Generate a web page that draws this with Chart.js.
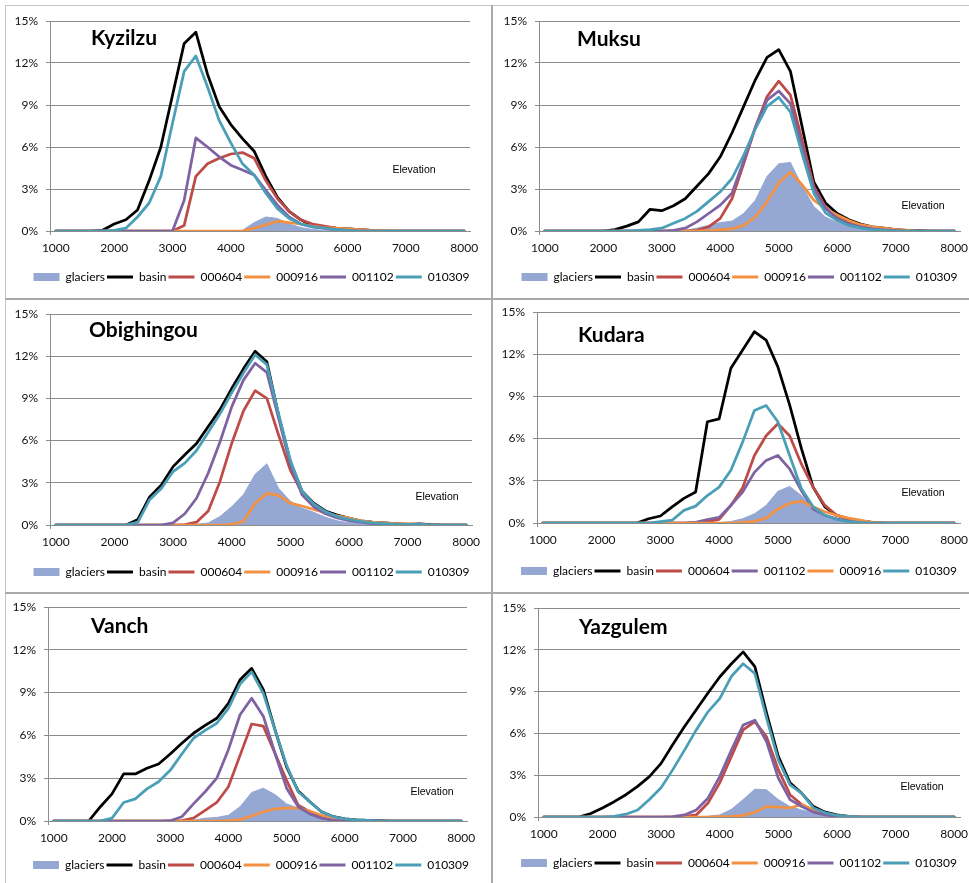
<!DOCTYPE html>
<html>
<head>
<meta charset="utf-8">
<title>Hypsometry of basins, glaciers and snow cover</title>
<script src="https://cdn.jsdelivr.net/npm/chart.js@4.4.1/dist/chart.umd.min.js"></script>
<style>
  html, body { margin: 0; padding: 0; background: #ffffff; }
  body { position: relative; width: 969px; height: 883px; overflow: hidden; }
  canvas { position: absolute; }
  .rule { position: absolute; background: #a9a9a9; z-index: 2; }
</style>
</head>
<body>
<div class="rule" style="left:5px;top:5px;width:964px;height:1px;background:#c4c4c4"></div>
<div class="rule" style="left:5px;top:5px;width:1px;height:878px;background:#c4c4c4"></div>
<div class="rule" style="left:491px;top:5px;width:2px;height:878px"></div>
<div class="rule" style="left:5px;top:298px;width:964px;height:2px"></div>
<div class="rule" style="left:5px;top:592px;width:964px;height:2px"></div>
<script>
// Elevation bands (m), 200 m steps
const elevations = [1000,1200,1400,1600,1800,2000,2200,2400,2600,2800,3000,3200,3400,3600,3800,4000,4200,4400,4600,4800,5000,5200,5400,5600,5800,6000,6200,6400,6600,6800,7000,7200,7400,7600,7800,8000];
const percentMax = 15;
const percentStep = 3;

// Series order in the legends
const seriesOrder = ['glaciers','basin','000604','000916','001102','010309'];
const kudaraOrder = ['glaciers','basin','000604','001102','000916','010309'];

// Share of area (%) in each elevation band
const kyzilzuGlaciers = [0,0,0,0,0, 0,0,0,0,0, 0,0,0,0,0, 0,0.05,0.6,1.0,0.9, 0.5,0.25,0.1,0.05,0, 0,0,0,0,0, 0,0,0,0,0,0];
const kyzilzuBasin    = [0,0,0,0,0.05, 0.5,0.8,1.5,3.6,6.0, 9.7,13.4,14.2,11.2,8.9, 7.6,6.6,5.7,3.9,2.4, 1.4,0.8,0.4,0.3,0.2, 0.15,0.1,0.05,0,0, 0,0,0,0,0,0];
const kyzilzu000604   = [0,0,0,0,0, 0,0,0,0,0, 0,0.4,3.9,4.8,5.2, 5.5,5.6,5.2,3.6,2.3, 1.4,0.8,0.5,0.35,0.2, 0.15,0.1,0.05,0,0, 0,0,0,0,0,0];
const kyzilzu000916   = [0,0,0,0,0, 0,0,0,0,0, 0,0,0,0,0, 0,0,0.2,0.45,0.7, 0.6,0.5,0.35,0.25,0.2, 0.15,0.1,0.05,0.03,0, 0,0,0,0,0,0];
const kyzilzu001102   = [0,0,0,0,0, 0,0,0,0,0, 0,2.2,6.65,6.0,5.3, 4.7,4.35,4.0,2.9,1.85, 1.0,0.5,0.3,0.2,0.1, 0.05,0,0,0,0, 0,0,0,0,0,0];
const kyzilzu010309   = [0,0,0,0,0, 0.05,0.2,1.0,2.0,3.9, 7.7,11.4,12.5,10.3,7.9, 6.3,4.8,4.0,2.7,1.6, 0.9,0.5,0.3,0.2,0.1, 0.05,0,0,0,0, 0,0,0,0,0,0];

const muksuGlaciers = [0,0,0,0,0, 0,0,0,0,0, 0,0,0.05,0.2,0.4, 0.6,0.7,1.25,2.2,3.9, 4.8,4.9,3.2,1.75,1.0, 0.6,0.35,0.2,0.1,0.05, 0,0,0,0,0,0];
const muksuBasin    = [0,0,0,0,0, 0,0.1,0.35,0.65,1.55, 1.45,1.8,2.3,3.2,4.1, 5.3,7.0,8.9,10.8,12.4, 12.95,11.4,7.45,3.5,2.0, 1.25,0.8,0.5,0.3,0.2, 0.1,0.05,0.02,0,0,0];
const muksu000604   = [0,0,0,0,0, 0,0,0,0,0, 0,0,0,0.05,0.3, 0.9,2.3,4.8,7.4,9.6, 10.7,9.7,6.5,3.2,1.7, 1.0,0.6,0.35,0.2,0.1, 0.05,0,0,0,0,0];
const muksu000916   = [0,0,0,0,0, 0,0,0,0,0, 0,0,0,0,0.02, 0.1,0.15,0.4,1.0,2.1, 3.45,4.2,3.3,2.2,1.6, 1.15,0.75,0.45,0.3,0.2, 0.1,0.05,0,0,0,0];
const muksu001102   = [0,0,0,0,0, 0,0,0,0,0, 0,0.05,0.2,0.65,1.25, 1.85,2.7,5.0,7.4,9.35, 10.0,9.1,6.0,3.0,1.6, 0.9,0.5,0.3,0.15,0.08, 0.03,0,0,0,0,0];
const muksu010309   = [0,0,0,0,0, 0,0,0,0.05,0.1, 0.2,0.55,0.9,1.4,2.1, 2.8,3.75,5.4,7.3,8.9, 9.55,8.5,5.5,2.7,1.3, 0.75,0.4,0.2,0.1,0.05, 0,0,0,0,0,0];

const obighingouGlaciers = [0,0,0,0,0, 0,0,0,0,0, 0,0,0.05,0.15,0.6, 1.3,2.15,3.6,4.35,2.6, 1.7,1.2,0.9,0.55,0.3, 0.15,0.1,0.05,0,0, 0,0,0,0,0,0];
const obighingouBasin    = [0,0,0,0,0, 0,0,0.4,2.0,2.85, 4.15,5.0,5.8,7.0,8.2, 9.7,11.1,12.35,11.6,7.8, 4.5,2.4,1.55,1.0,0.7, 0.5,0.3,0.2,0.15,0.1, 0.05,0.08,0.02,0,0,0];
const obighingou000604   = [0,0,0,0,0, 0,0,0,0,0, 0,0.02,0.2,1.0,3.1, 5.8,8.1,9.55,9.0,6.4, 3.9,2.3,1.45,0.9,0.6, 0.4,0.25,0.15,0.1,0.05, 0,0,0,0,0,0];
const obighingou000916   = [0,0,0,0,0, 0,0,0,0,0, 0,0,0,0,0, 0.05,0.25,1.55,2.25,2.1, 1.55,1.35,1.1,0.85,0.65, 0.5,0.3,0.2,0.15,0.1, 0.1,0.05,0,0,0,0];
const obighingou001102   = [0,0,0,0,0, 0,0,0,0,0, 0.15,0.8,1.9,3.7,5.9, 8.4,10.3,11.5,10.85,7.6, 4.3,2.15,1.3,0.8,0.5, 0.3,0.2,0.1,0.05,0, 0,0,0,0,0,0];
const obighingou010309   = [0,0,0,0,0, 0,0,0.2,1.8,2.6, 3.8,4.4,5.3,6.6,7.9, 9.4,10.8,12.1,11.4,7.9, 4.6,2.4,1.5,0.95,0.6, 0.4,0.25,0.15,0.1,0.05, 0.05,0.05,0,0,0,0];

const kudaraGlaciers = [0,0,0,0,0, 0,0,0,0,0, 0,0,0,0,0, 0.02,0.1,0.3,0.65,1.25, 2.25,2.6,1.95,1.0,0.5, 0.2,0.05,0,0,0, 0,0,0,0,0,0];
const kudaraBasin    = [0,0,0,0,0, 0,0,0,0,0.3, 0.5,1.15,1.75,2.2,7.2, 7.4,11.0,12.3,13.6,13.0, 11.1,8.4,5.3,2.55,1.15, 0.55,0.3,0.15,0.05,0, 0,0,0,0,0,0];
const kudara000604   = [0,0,0,0,0, 0,0,0,0,0, 0,0,0,0.02,0.1, 0.25,1.25,2.5,4.8,6.2, 7.05,6.2,4.2,2.55,1.25, 0.55,0.3,0.15,0.05,0, 0,0,0,0,0,0];
const kudara001102   = [0,0,0,0,0, 0,0,0,0,0, 0,0,0,0.05,0.25, 0.4,1.25,2.2,3.6,4.45, 4.8,3.85,2.3,1.0,0.55, 0.3,0.15,0.05,0,0, 0,0,0,0,0,0];
const kudara000916   = [0,0,0,0,0, 0,0,0,0,0, 0,0,0,0,0, 0,0,0.05,0.12,0.35, 1.0,1.4,1.55,1.15,0.8, 0.55,0.35,0.2,0.05,0, 0,0,0,0,0,0];
const kudara010309   = [0,0,0,0,0, 0,0,0,0,0, 0.1,0.2,0.9,1.2,1.95, 2.55,3.75,5.75,8.0,8.35, 7.2,4.8,2.45,1.15,0.55, 0.25,0.1,0.05,0,0, 0,0,0,0,0,0];

const vanchGlaciers = [0,0,0,0,0, 0,0,0,0,0, 0,0,0.05,0.2,0.25, 0.4,1.0,2.0,2.3,1.85, 1.2,0.9,0.5,0.3,0.15, 0.1,0.05,0.05,0.02,0, 0,0,0,0,0,0];
const vanchBasin    = [0,0,0,0,1.0, 1.9,3.3,3.3,3.7,4.0, 4.7,5.45,6.15,6.7,7.2, 8.25,9.9,10.7,9.2,6.4, 3.8,2.1,1.35,0.65,0.3, 0.15,0.08,0.05,0.02,0, 0,0,0,0,0,0];
const vanch000604   = [0,0,0,0,0, 0,0,0,0,0, 0,0.02,0.2,0.75,1.3, 2.4,4.6,6.8,6.65,4.75, 2.85,1.1,0.65,0.3,0.1, 0.03,0,0,0,0, 0,0,0,0,0,0];
const vanch000916   = [0,0,0,0,0, 0,0,0,0,0, 0,0,0,0,0, 0.02,0.1,0.35,0.65,0.85, 0.9,0.9,0.7,0.4,0.2, 0.05,0,0,0,0, 0,0,0,0,0,0];
const vanch001102   = [0,0,0,0,0, 0,0,0,0,0, 0.02,0.3,1.2,2.05,3.0, 5.0,7.45,8.6,7.35,4.75, 2.3,1.0,0.5,0.2,0.05, 0,0,0,0,0, 0,0,0,0,0,0];
const vanch010309   = [0,0,0,0,0, 0.2,1.3,1.55,2.25,2.75, 3.55,4.7,5.8,6.35,6.85, 7.9,9.6,10.45,8.95,6.4, 3.9,2.05,1.35,0.65,0.3, 0.15,0.08,0.05,0,0, 0,0,0,0,0,0];

const yazgulemGlaciers = [0,0,0,0,0, 0,0,0,0,0, 0,0,0,0,0.05, 0.15,0.55,1.25,2.0,1.95, 1.25,0.75,0.5,0.3,0.15, 0.05,0,0,0,0, 0,0,0,0,0,0];
const yazgulemBasin    = [0,0,0,0,0.25, 0.65,1.1,1.6,2.2,2.9, 3.85,5.2,6.5,7.7,8.9, 10.05,11.0,11.85,10.8,7.45, 4.35,2.45,1.7,0.75,0.35, 0.15,0.05,0,0,0, 0,0,0,0,0,0];
const yazgulem000604   = [0,0,0,0,0, 0,0,0,0,0, 0,0,0.05,0.15,1.0, 2.45,4.35,6.25,6.85,5.75, 3.4,1.6,0.9,0.45,0.2, 0.05,0,0,0,0, 0,0,0,0,0,0];
const yazgulem000916   = [0,0,0,0,0, 0,0,0,0,0, 0,0,0,0,0, 0.02,0.05,0.12,0.35,0.75, 0.7,0.65,0.9,0.5,0.25, 0.1,0.03,0,0,0, 0,0,0,0,0,0];
const yazgulem001102   = [0,0,0,0,0, 0,0,0,0,0, 0,0.02,0.15,0.5,1.35, 2.9,4.8,6.6,6.95,5.4, 2.8,1.25,0.75,0.35,0.15, 0.05,0,0,0,0, 0,0,0,0,0,0];
const yazgulem010309   = [0,0,0,0,0, 0,0.05,0.2,0.5,1.25, 2.1,3.4,4.8,6.25,7.55, 8.5,10.1,11.0,10.3,7.1, 4.1,2.3,1.7,0.65,0.3, 0.12,0.05,0,0,0, 0,0,0,0,0,0];

const COLORS = {
  glaciers: '#95a8d4',
  basin: '#000000',
  '000604': '#be4b48',
  '000916': '#f39143',
  '001102': '#7e62a1',
  '010309': '#4a9fb6'
};
const GRID = '#8c8c8c';

// Panel layout (page px): canvas left/top/height, plot area, legend centre,
// title baseline and axis-note offsets from the plot's top-left corner
const panels = [
  { title: 'Kyzilzu', names: seriesOrder,
    values: { glaciers: kyzilzuGlaciers, basin: kyzilzuBasin, '000604': kyzilzu000604, '000916': kyzilzu000916, '001102': kyzilzu001102, '010309': kyzilzu010309 },
    box: { x: 6, y: 7, h: 290 }, area: { left: 50, top: 21, right: 470, bottom: 231 },
    legendY: 277, legendCx: 251.5, titleAt: [41, 24], noteAt: [364, 149] },
  { title: 'Muksu', names: seriesOrder,
    values: { glaciers: muksuGlaciers, basin: muksuBasin, '000604': muksu000604, '000916': muksu000916, '001102': muksu001102, '010309': muksu010309 },
    box: { x: 494, y: 7, h: 290 }, area: { left: 539, top: 21, right: 960, bottom: 231 },
    legendY: 277, legendCx: 739.5, titleAt: [38, 25], noteAt: [384, 185] },
  { title: 'Obighingou', names: seriesOrder,
    values: { glaciers: obighingouGlaciers, basin: obighingouBasin, '000604': obighingou000604, '000916': obighingou000916, '001102': obighingou001102, '010309': obighingou010309 },
    box: { x: 6, y: 300, h: 291 }, area: { left: 50, top: 314, right: 472, bottom: 525 },
    legendY: 572, legendCx: 251.5, titleAt: [39, 23], noteAt: [387, 183] },
  { title: 'Kudara', names: kudaraOrder,
    values: { glaciers: kudaraGlaciers, basin: kudaraBasin, '000604': kudara000604, '000916': kudara000916, '001102': kudara001102, '010309': kudara010309 },
    box: { x: 494, y: 300, h: 291 }, area: { left: 537, top: 312, right: 960, bottom: 523 },
    legendY: 571, legendCx: 739, titleAt: [41, 30], noteAt: [386, 181] },
  { title: 'Vanch', names: seriesOrder,
    values: { glaciers: vanchGlaciers, basin: vanchBasin, '000604': vanch000604, '000916': vanch000916, '001102': vanch001102, '010309': vanch010309 },
    box: { x: 6, y: 594, h: 289 }, area: { left: 48, top: 607, right: 467, bottom: 821 },
    legendY: 865, legendCx: 251, titleAt: [43, 26], noteAt: [384, 185] },
  { title: 'Yazgulem', names: seriesOrder,
    values: { glaciers: yazgulemGlaciers, basin: yazgulemBasin, '000604': yazgulem000604, '000916': yazgulem000916, '001102': yazgulem001102, '010309': yazgulem010309 },
    box: { x: 494, y: 594, h: 289 }, area: { left: 538, top: 608, right: 960, bottom: 817 },
    legendY: 863, legendCx: 739, titleAt: [41, 26], noteAt: [384, 179] }
];

// Basin name and the "Elevation" note, drawn inside the plot area
const panelText = {
  id: 'panelText',
  afterDatasetsDraw(chart, args, opts) {
    const { ctx, chartArea } = chart;
    ctx.save();
    ctx.fillStyle = '#000';
    ctx.textAlign = 'left';
    ctx.textBaseline = 'alphabetic';
    ctx.font = 'bold 21px Lato';
    ctx.fillText(opts.title, chartArea.left + opts.titleAt[0], chartArea.top + opts.titleAt[1]);
    ctx.font = '10.5px "Liberation Sans"';
    ctx.textAlign = 'center';
    ctx.textBaseline = 'middle';
    ctx.fillText('Elevation', chartArea.left + opts.noteAt[0], chartArea.top + opts.noteAt[1]);
    ctx.restore();
  }
};

function makeDatasets(names, values) {
  return names.map((name, i) => {
    const isArea = name === 'glaciers';
    return {
      label: name,
      data: values[name],
      borderColor: COLORS[name],
      backgroundColor: COLORS[name],
      borderWidth: isArea ? 1 : 2.75,
      fill: isArea ? 'origin' : false,
      pointRadius: 0,
      pointHoverRadius: 0,
      tension: 0,
      borderJoinStyle: 'round',
      borderCapStyle: 'round',
      order: isArea ? 100 : names.length - i
    };
  });
}

function buildPanel(p) {
  // The canvas is centred on the legend, so the legend lands where it belongs;
  // any part of the canvas outside the page simply stays empty.
  const width = Math.round(2 * (p.legendCx - p.box.x));
  const canvas = document.createElement('canvas');
  canvas.width = width;
  canvas.height = p.box.h;
  canvas.style.left = p.box.x + 'px';
  canvas.style.top = p.box.y + 'px';
  canvas.style.width = width + 'px';
  canvas.style.height = p.box.h + 'px';
  document.body.appendChild(canvas);

  const LEGEND_H = 24;
  const padTop = p.area.top - p.box.y;
  const plotRight = p.box.x + width - p.area.right;
  const yWidth = p.area.left - p.box.x;
  const xHeight = p.legendY - p.area.bottom - 8;
  const padBottom = Math.max(0, p.box.h - (p.area.bottom - p.box.y) - xHeight - LEGEND_H);

  new Chart(canvas, {
    type: 'line',
    data: { labels: elevations, datasets: makeDatasets(p.names, p.values) },
    plugins: [panelText],
    options: {
      responsive: false,
      animation: false,
      events: [],
      layout: { padding: { left: 0, right: 0, top: padTop, bottom: padBottom } },
      scales: {
        x: {
          type: 'category',
          offset: true,
          border: { display: true, color: GRID, width: 1 },
          grid: {
            display: true,
            drawOnChartArea: false,
            drawTicks: true,
            tickLength: 4,
            offset: true,
            color: ctx => (ctx.index === 0 ? GRID : 'rgba(0,0,0,0)')
          },
          ticks: {
            autoSkip: false,
            maxRotation: 0,
            minRotation: 0,
            padding: 6,
            color: '#111',
            font: { family: 'Lato', size: 12 },
            callback: function (value) {
              const label = this.getLabelForValue(value);
              return label % 1000 === 0 ? String(label) : '';
            }
          },
          afterFit: s => { s.height = xHeight; s.paddingLeft = 0; s.paddingRight = plotRight; }
        },
        y: {
          min: 0,
          max: percentMax,
          border: { display: true, color: GRID, width: 1 },
          grid: { color: GRID, lineWidth: 1, drawTicks: true, tickLength: 4 },
          ticks: {
            stepSize: percentStep,
            padding: 8,
            color: '#111',
            font: { family: 'Lato', size: 12 },
            callback: v => v + '%'
          },
          afterFit: s => { s.width = yWidth; s.paddingTop = 0; s.paddingBottom = 0; }
        }
      },
      plugins: {
        title: { display: false },
        tooltip: { enabled: false },
        legend: {
          display: true,
          position: 'bottom',
          align: 'center',
          labels: {
            usePointStyle: true,
            pointStyleWidth: 26,
            boxHeight: 8,
            padding: 2,
            color: '#000',
            font: { family: 'Lato', size: 12 },
            generateLabels: chart => chart.data.datasets.map((ds, i) => {
              const isArea = ds.label === 'glaciers';
              return {
                text: ds.label,
                datasetIndex: i,
                hidden: false,
                fillStyle: ds.backgroundColor,
                strokeStyle: ds.borderColor,
                lineWidth: isArea ? 0 : 3,
                lineCap: 'butt',
                pointStyle: isArea ? 'rect' : 'line',
                fontColor: '#000'
              };
            })
          }
        },
        panelText: { title: p.title, titleAt: p.titleAt, noteAt: p.noteAt }
      }
    }
  });
}

const fontsReady = document.fonts
  ? Promise.all([
      document.fonts.load('bold 21px Lato'),
      document.fonts.load('12px Lato'),
      document.fonts.load('10.5px "Liberation Sans"')
    ]).catch(() => null)
  : Promise.resolve();

fontsReady.then(() => panels.forEach(buildPanel));
</script>
</body>
</html>
